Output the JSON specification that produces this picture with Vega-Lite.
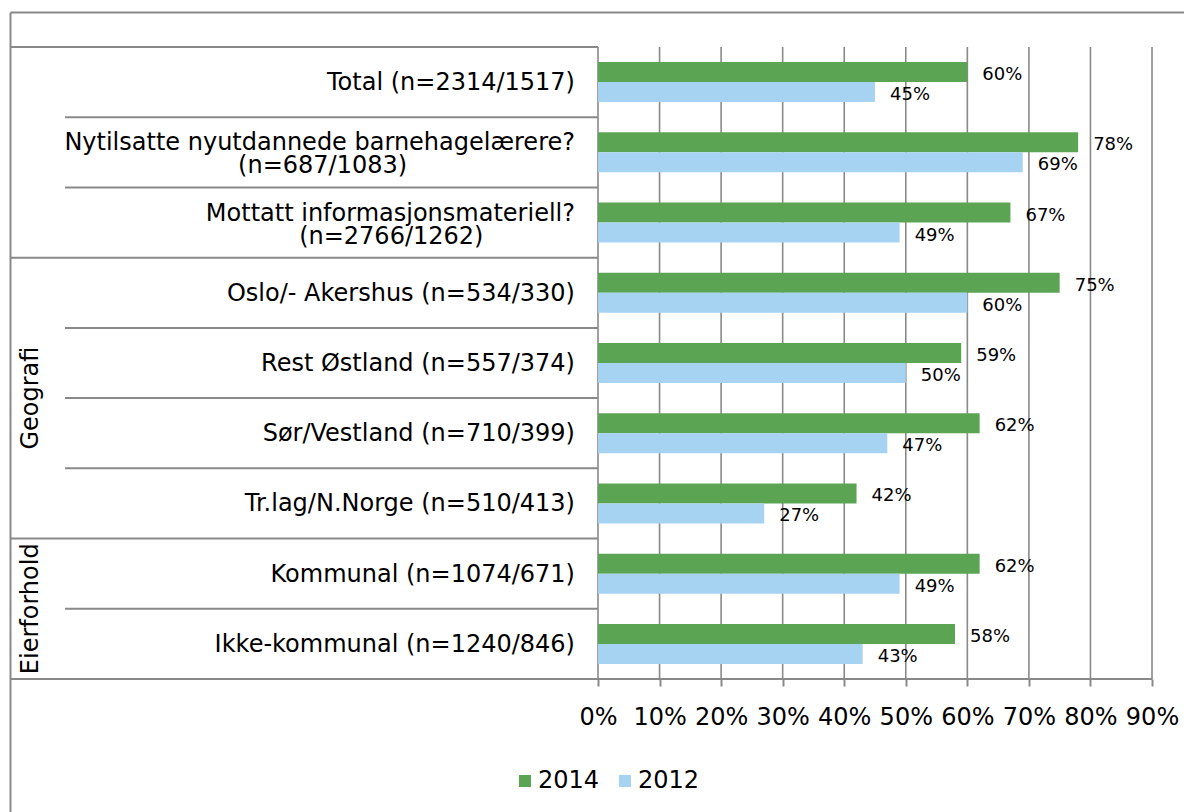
{
  "$schema": "https://vega.github.io/schema/vega-lite/v6.json",
  "width": 1174,
  "height": 800,
  "autosize": {"type": "none"},
  "padding": {"left": 10, "top": 12, "right": 0, "bottom": 0},
  "config": {
    "font": "DejaVu Sans",
    "view": {"stroke": null},
    "text": {"color": "#000000"}
  },
  "data": {
    "values": [
      {"cat": "Total (n=2314/1517)", "group": "", "year": "2014", "value": 0.60},
      {"cat": "Total (n=2314/1517)", "group": "", "year": "2012", "value": 0.45},
      {"cat": "Nytilsatte nyutdannede barnehagelærere?\n(n=687/1083)\u00a0\u00a0\u00a0\u00a0\u00a0\u00a0\u00a0\u00a0\u00a0\u00a0\u00a0\u00a0\u00a0\u00a0\u00a0\u00a0\u00a0\u00a0\u00a0\u00a0\u00a0\u00a0\u200b", "group": "", "year": "2014", "value": 0.78},
      {"cat": "Nytilsatte nyutdannede barnehagelærere?\n(n=687/1083)\u00a0\u00a0\u00a0\u00a0\u00a0\u00a0\u00a0\u00a0\u00a0\u00a0\u00a0\u00a0\u00a0\u00a0\u00a0\u00a0\u00a0\u00a0\u00a0\u00a0\u00a0\u00a0\u200b", "group": "", "year": "2012", "value": 0.69},
      {"cat": "Mottatt informasjonsmateriell?\n(n=2766/1262)\u00a0\u00a0\u00a0\u00a0\u00a0\u00a0\u00a0\u00a0\u00a0\u00a0\u00a0\u00a0\u200b", "group": "", "year": "2014", "value": 0.67},
      {"cat": "Mottatt informasjonsmateriell?\n(n=2766/1262)\u00a0\u00a0\u00a0\u00a0\u00a0\u00a0\u00a0\u00a0\u00a0\u00a0\u00a0\u00a0\u200b", "group": "", "year": "2012", "value": 0.49},
      {"cat": "Oslo/- Akershus (n=534/330)", "group": "Geografi", "year": "2014", "value": 0.75},
      {"cat": "Oslo/- Akershus (n=534/330)", "group": "Geografi", "year": "2012", "value": 0.60},
      {"cat": "Rest Østland (n=557/374)", "group": "Geografi", "year": "2014", "value": 0.59},
      {"cat": "Rest Østland (n=557/374)", "group": "Geografi", "year": "2012", "value": 0.50},
      {"cat": "Sør/Vestland (n=710/399)", "group": "Geografi", "year": "2014", "value": 0.62},
      {"cat": "Sør/Vestland (n=710/399)", "group": "Geografi", "year": "2012", "value": 0.47},
      {"cat": "Tr.lag/N.Norge (n=510/413)", "group": "Geografi", "year": "2014", "value": 0.42},
      {"cat": "Tr.lag/N.Norge (n=510/413)", "group": "Geografi", "year": "2012", "value": 0.27},
      {"cat": "Kommunal (n=1074/671)", "group": "Eierforhold", "year": "2014", "value": 0.62},
      {"cat": "Kommunal (n=1074/671)", "group": "Eierforhold", "year": "2012", "value": 0.49},
      {"cat": "Ikke-kommunal (n=1240/846)", "group": "Eierforhold", "year": "2014", "value": 0.58},
      {"cat": "Ikke-kommunal (n=1240/846)", "group": "Eierforhold", "year": "2012", "value": 0.43}
    ]
  },
  "resolve": {"scale": {"y": "independent"}},
  "layer": [
    {
      "mark": {"type": "rule", "opacity": 0},
      "encoding": {
        "y": {"datum": 0, "type": "quantitative", "scale": {"domain": [0, 1]},
          "axis": {"orient": "left", "title": null, "labels": false, "ticks": false, "grid": false, "domain": true, "domainColor": "#898989", "domainWidth": 2}}
      }
    },
    {
      "layer": [
        {
          "data": {"values": [{"v": 0}, {"v": 0.1}, {"v": 0.2}, {"v": 0.3}, {"v": 0.4}, {"v": 0.5}, {"v": 0.6}, {"v": 0.7}, {"v": 0.8}, {"v": 0.9}]},
          "mark": {"type": "rule", "color": "#898989", "strokeWidth": 1.6},
          "encoding": {
            "x": {"field": "v", "type": "quantitative", "axis": null, "scale": {"domain": [-0.95523, 0.95197], "nice": false, "zero": false}},
            "y": {"datum": 0, "type": "quantitative", "scale": {"domain": [0, 1], "range": [35, 667]}, "axis": null},
            "y2": {"datum": 1}
          }
        },
        {
          "mark": {"type": "rule", "color": "#898989", "strokeWidth": 2},
          "encoding": {
            "x": {"datum": -0.95523, "type": "quantitative", "axis": null},
            "x2": {"datum": 0.9},
            "y": {"datum": 1, "type": "quantitative", "axis": null}
          }
        }
      ]
    },
    {
      "layer": [
        {
          "mark": {"type": "bar"},
          "encoding": {
            "y": {"field": "cat", "type": "nominal", "sort": null, "scale": {"paddingInner": 0, "paddingOuter": 0, "range": [35, 667]}, "axis": null},
            "yOffset": {"field": "year", "type": "nominal", "sort": ["2014", "2012"], "scale": {"paddingInner": 0, "paddingOuter": 0.7556}},
            "x": {"field": "value", "type": "quantitative",
              "axis": {"orient": "bottom", "offset": -133, "title": null, "domain": false, "grid": false, "values": [0, 0.1, 0.2, 0.3, 0.4, 0.5, 0.6, 0.7, 0.8, 0.9], "format": ".0%", "tickSize": 7, "tickColor": "#898989", "tickWidth": 2, "labelFontSize": 24, "labelColor": "#000000", "labelPadding": 19, "labelOverlap": false, "labelFlush": false}},
            "color": {"field": "year", "type": "nominal", "scale": {"domain": ["2014", "2012"], "range": ["#5ba453", "#a7d3f3"]},
              "legend": {"orient": "none", "legendX": 503, "legendY": 757, "direction": "horizontal", "title": null, "symbolType": "square", "symbolSize": 144, "symbolStrokeWidth": 0, "labelFontSize": 24, "labelColor": "#000000", "columnPadding": 13, "labelOffset": 1, "padding": 0}}
          }
        },
        {
          "mark": {"type": "text", "align": "left", "baseline": "middle", "dx": 15, "dy": 3, "fontSize": 18},
          "encoding": {
            "y": {"field": "cat", "type": "nominal", "sort": null, "axis": null},
            "yOffset": {"field": "year", "type": "nominal", "sort": ["2014", "2012"]},
            "x": {"field": "value", "type": "quantitative", "axis": null},
            "text": {"field": "value", "type": "quantitative", "format": ".0%"}
          }
        },
        {
          "transform": [{"filter": "datum.year == '2014' && indexof(datum.cat, '\\n') < 0"}],
          "mark": {"type": "text", "align": "right", "baseline": "middle", "fontSize": 24, "dy": 1},
          "encoding": {
            "y": {"field": "cat", "type": "nominal", "sort": null, "axis": null},
            "x": {"datum": -0.0374, "type": "quantitative",
              "axis": {"orient": "top", "title": null, "labels": false, "ticks": false, "grid": false, "domain": true, "domainColor": "#898989", "domainWidth": 2}},
            "text": {"field": "cat"}
          }
        },
        {
          "transform": [{"filter": "datum.year == '2014' && indexof(datum.cat, '\\n') >= 0"}],
          "mark": {"type": "text", "align": "right", "baseline": "middle", "fontSize": 24, "lineBreak": "\n", "lineHeight": 23, "dy": -9},
          "encoding": {
            "y": {"field": "cat", "type": "nominal", "sort": null, "axis": null},
            "x": {"datum": -0.0374, "type": "quantitative", "axis": null},
            "text": {"field": "cat"}
          }
        },
        {
          "transform": [
            {"filter": "datum.year == '2014'"},
            {"window": [{"op": "row_number", "as": "rank"}], "groupby": ["group"]},
            {"filter": "datum.rank == 1"}
          ],
          "mark": {"type": "rule", "color": "#898989", "strokeWidth": 2},
          "encoding": {
            "y": {"field": "cat", "type": "nominal", "sort": null, "bandPosition": 0, "axis": null},
            "x": {"datum": -0.95523, "type": "quantitative", "axis": null},
            "x2": {"datum": 0}
          }
        },
        {
          "transform": [
            {"filter": "datum.year == '2014'"},
            {"window": [{"op": "row_number", "as": "rank"}], "groupby": ["group"]},
            {"filter": "datum.rank > 1"}
          ],
          "mark": {"type": "rule", "color": "#898989", "strokeWidth": 2},
          "encoding": {
            "y": {"field": "cat", "type": "nominal", "sort": null, "bandPosition": 0, "axis": null},
            "x": {"datum": -0.8658, "type": "quantitative", "axis": null},
            "x2": {"datum": 0}
          }
        },
        {
          "transform": [
            {"filter": "datum.year == '2014'"},
            {"window": [{"op": "row_number", "as": "rank"}], "groupby": ["group"]},
            {"joinaggregate": [{"op": "count", "as": "n"}], "groupby": ["group"]},
            {"filter": "datum.group != '' && datum.rank == floor(datum.n / 2) + 1"}
          ],
          "mark": {"type": "text", "angle": 270, "align": "center", "baseline": "middle", "fontSize": 24},
          "encoding": {
            "y": {"field": "cat", "type": "nominal", "sort": null, "bandPosition": 0, "axis": null},
            "x": {"datum": -0.9211, "type": "quantitative", "axis": null},
            "text": {"field": "group"}
          }
        }
      ]
    }
  ]
}
